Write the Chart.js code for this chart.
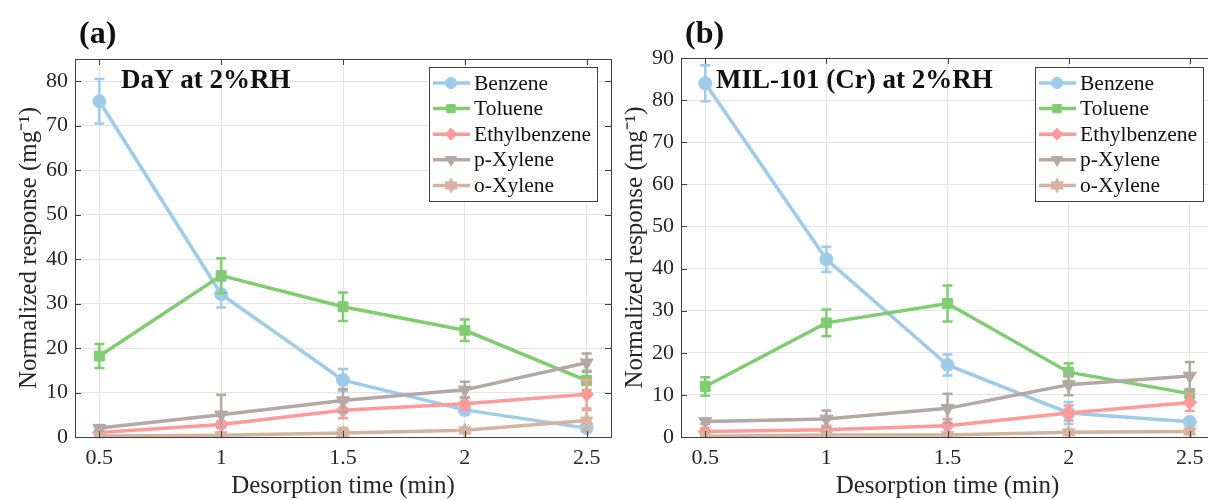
<!DOCTYPE html>
<html>
<head>
<meta charset="utf-8">
<script src="https://cdn.jsdelivr.net/npm/chart.js@4.4.1/dist/chart.umd.min.js"></script>
<style>
html,body{margin:0;padding:0;background:#fff;overflow:hidden}
body{width:1208px;height:500px;position:relative}
.panel{position:absolute;top:0;width:620px;height:500px}
#pa{left:0}
#pb{left:604px}
</style>
</head>
<body>
<div class="panel" id="pa"><canvas id="ca"></canvas></div>
<div class="panel" id="pb"><canvas id="cb"></canvas></div>
<script>
// desorption times (min)
const times = [0.5, 1, 1.5, 2, 2.5]
const xTicks = [0.5, 1, 1.5, 2, 2.5]
const yTicksA = [0, 10, 20, 30, 40, 50, 60, 70, 80]
const yTicksB = [0, 10, 20, 30, 40, 50, 60, 70, 80, 90]

const names = ['Benzene', 'Toluene', 'Ethylbenzene', 'p-Xylene', 'o-Xylene']
const colors = ['#9fcbea', '#80cc70', '#ff9a9a', '#b4a8a5', '#d6b2a0']

// (a) DaY at 2%RH
const benzeneA = [75.5, 32.1, 12.8, 6.1, 2.0]
const tolueneA = [18.2, 36.3, 29.3, 24.0, 12.7]
const ethylA   = [1.0, 2.8, 6.0, 7.5, 9.6]
const pxyleneA = [2.0, 5.0, 8.2, 10.6, 16.7]
const oxyleneA = [0.2, 0.4, 0.9, 1.5, 3.7]
const benzeneErrA = [5.0, 3.0, 2.5, 1.0, 0.8]
const tolueneErrA = [2.7, 3.9, 3.2, 2.4, 2.2]
const ethylErrA   = [0.5, 0.7, 1.8, 1.5, 3.2]
const pxyleneErrA = [0.5, 4.5, 2.6, 1.8, 2.1]
const oxyleneErrA = [0.4, 0.4, 1.2, 0.6, 2.3]

// (b) MIL-101 (Cr) at 2%RH
const benzeneB = [84.0, 42.2, 17.1, 5.7, 3.6]
const tolueneB = [12.0, 27.1, 31.7, 15.4, 10.3]
const ethylB   = [1.3, 1.7, 2.7, 5.7, 8.2]
const pxyleneB = [3.7, 4.3, 6.8, 12.4, 14.5]
const oxyleneB = [0.2, 0.5, 0.5, 1.1, 1.3]
const benzeneErrB = [4.3, 3.0, 2.5, 2.6, 0.6]
const tolueneErrB = [2.2, 3.2, 4.3, 2.1, 1.0]
const ethylErrB   = [0.8, 1.0, 1.5, 1.8, 2.0]
const pxyleneErrB = [0.6, 2.0, 3.5, 2.5, 3.3]
const oxyleneErrB = [0.3, 0.4, 0.4, 0.4, 0.5]

const serif = "'Liberation Serif', 'Times New Roman', serif"
const textColor = '#262626'

function hexagram(color, r) {
    const c = document.createElement('canvas')
    const s = Math.ceil(r * 2 + 2)
    c.width = s; c.height = s
    const g = c.getContext('2d')
    g.fillStyle = color
    ;[0, Math.PI].forEach(off => {
        g.beginPath()
        for (let k = 0; k < 3; k++) {
            const a = off - Math.PI / 2 + k * 2 * Math.PI / 3
            g.lineTo(s / 2 + r * Math.cos(a), s / 2 + r * Math.sin(a))
        }
        g.closePath()
        g.fill()
    })
    return c
}

const pointStyles = ['circle', 'rect', 'rectRot', 'triangle', hexagram(colors[4], 8)]
const radii = [6.5, 7, 7, 7.5, 8]
const rotations = [0, 0, 0, 180, 0]

// error bars, box, inner ticks, legend and titles
const extras = {
    id: 'extras',
    afterDatasetDraw(chart, args) {
        const ds = chart.data.datasets[args.index]
        const ys = chart.scales.y, xs = chart.scales.x
        const ctx = chart.ctx
        ctx.save()
        ctx.strokeStyle = ds.borderColor
        ctx.lineWidth = 2.5
        ds.data.forEach((p, k) => {
            const e = ds.err[k]
            const x = xs.getPixelForValue(p.x)
            const y1 = ys.getPixelForValue(p.y + e), y2 = ys.getPixelForValue(Math.max(p.y - e, 0))
            ctx.beginPath()
            ctx.moveTo(x, y1); ctx.lineTo(x, y2)
            ctx.moveTo(x - 5, y1); ctx.lineTo(x + 5, y1)
            ctx.moveTo(x - 5, y2); ctx.lineTo(x + 5, y2)
            ctx.stroke()
        })
        ctx.restore()
    },
    afterDraw(chart, args, opts) {
        const ctx = chart.ctx
        const a = chart.chartArea
        const xs = chart.scales.x, ys = chart.scales.y
        ctx.save()
        // box + inward ticks
        ctx.strokeStyle = '#404040'
        ctx.lineWidth = 1
        ctx.strokeRect(a.left + 0.5, a.top + 0.5, a.right - a.left, a.bottom - a.top)
        ctx.beginPath()
        xTicks.forEach(v => {
            const x = Math.round(xs.getPixelForValue(v)) + 0.5
            ctx.moveTo(x, a.bottom); ctx.lineTo(x, a.bottom - 6)
            ctx.moveTo(x, a.top); ctx.lineTo(x, a.top + 6)
        })
        opts.yTicks.forEach(v => {
            const y = Math.round(ys.getPixelForValue(v)) + 0.5
            ctx.moveTo(a.left, y); ctx.lineTo(a.left + 6, y)
            ctx.moveTo(a.right, y); ctx.lineTo(a.right - 6, y)
        })
        ctx.stroke()

        // legend
        const lx = a.left + 354, ly = 67, lw = 168, lh = 134
        ctx.fillStyle = '#fff'
        ctx.fillRect(lx, ly, lw, lh)
        ctx.strokeStyle = '#404040'
        ctx.strokeRect(lx + 0.5, ly + 0.5, lw, lh)
        ctx.font = '21.5px ' + serif
        ctx.textBaseline = 'middle'
        ctx.textAlign = 'left'
        chart.data.datasets.forEach((ds, i) => {
            const y = ly + 16 + i * 25.6
            ctx.strokeStyle = ds.borderColor
            ctx.lineWidth = 3.5
            ctx.beginPath()
            ctx.moveTo(lx + 4, y); ctx.lineTo(lx + 41, y)
            ctx.stroke()
            ctx.fillStyle = ds.backgroundColor
            ctx.lineWidth = 1
            Chart.helpers.drawPoint(ctx, {pointStyle: ds.pointStyle, radius: ds.pointRadius * 0.85, rotation: ds.pointRotation, borderWidth: 1}, lx + 22, y)
            ctx.fillStyle = '#111'
            ctx.fillText(ds.label, lx + 45, y + 1)
        })

        // panel label and inner title
        ctx.fillStyle = '#111'
        ctx.font = 'bold 32px ' + serif
        ctx.textBaseline = 'alphabetic'
        ctx.fillText(opts.panel, a.left + 4, 43)
        ctx.font = 'bold 27px ' + serif
        ctx.fillText(opts.title, a.left + opts.titleX, 88)
        ctx.restore()
    }
}

function makeChart(id, cfg) {
    const datasets = cfg.series.map((s, i) => ({
        label: names[i],
        data: times.map((t, k) => ({x: t, y: s[k]})),
        err: cfg.errs[i],
        borderColor: colors[i],
        backgroundColor: colors[i],
        borderWidth: 3.5,
        pointStyle: pointStyles[i],
        pointRadius: radii[i],
        pointRotation: rotations[i],
        pointBorderWidth: 1,
        tension: 0,
        order: names.length - i
    }))

    return new Chart(document.getElementById(id), {
        type: 'line',
        data: {datasets: datasets},
        plugins: [extras],
        options: {
            responsive: true,
            maintainAspectRatio: false,
            animation: false,
            events: [],
            layout: {padding: {left: 0, right: cfg.padRight, top: cfg.padTop, bottom: 0}},
            plugins: {
                legend: {display: false},
                tooltip: {enabled: false},
                extras: {yTicks: cfg.yTicks, panel: cfg.panel, title: cfg.title, titleX: cfg.titleX}
            },
            scales: {
                x: {
                    type: 'linear',
                    min: 0.4,
                    max: 2.6,
                    afterBuildTicks: s => { s.ticks = xTicks.map(v => ({value: v})) },
                    afterFit: s => { s.height = 63 },
                    border: {display: false},
                    grid: {color: '#e4e4e4', drawTicks: false},
                    ticks: {font: {family: serif, size: 22}, color: textColor, padding: 8, maxRotation: 0, callback: v => String(v)},
                    title: {display: true, text: 'Desorption time (min)', font: {family: serif, size: 25}, color: textColor, padding: {top: 0, bottom: -1}}
                },
                y: {
                    type: 'linear',
                    min: 0,
                    max: cfg.yMax,
                    afterBuildTicks: s => { s.ticks = cfg.yTicks.map(v => ({value: v})) },
                    afterFit: s => { s.width = cfg.yWidth },
                    border: {display: false},
                    grid: {color: '#e4e4e4', drawTicks: false},
                    ticks: {font: {family: serif, size: 22}, color: textColor, padding: 7},
                    title: {display: true, text: 'Normalized response (mg\u207B\u00B9)', font: {family: serif, size: 25}, color: textColor, padding: {top: cfg.titlePad, bottom: 0}}
                }
            }
        }
    })
}

makeChart('ca', {
    series: [benzeneA, tolueneA, ethylA, pxyleneA, oxyleneA],
    errs: [benzeneErrA, tolueneErrA, ethylErrA, pxyleneErrA, oxyleneErrA],
    yMax: 85, yTicks: yTicksA, yWidth: 75, titlePad: 14,
    padTop: 59, padRight: 9,
    panel: '(a)', title: 'DaY at 2%RH', titleX: 46
})

makeChart('cb', {
    series: [benzeneB, tolueneB, ethylB, pxyleneB, oxyleneB],
    errs: [benzeneErrB, tolueneErrB, ethylErrB, pxyleneErrB, oxyleneErrB],
    yMax: 90, yTicks: yTicksB, yWidth: 77, titlePad: 16,
    padTop: 58, padRight: 10,
    panel: '(b)', title: 'MIL-101 (Cr) at 2%RH', titleX: 35
})
</script>
</body>
</html>
